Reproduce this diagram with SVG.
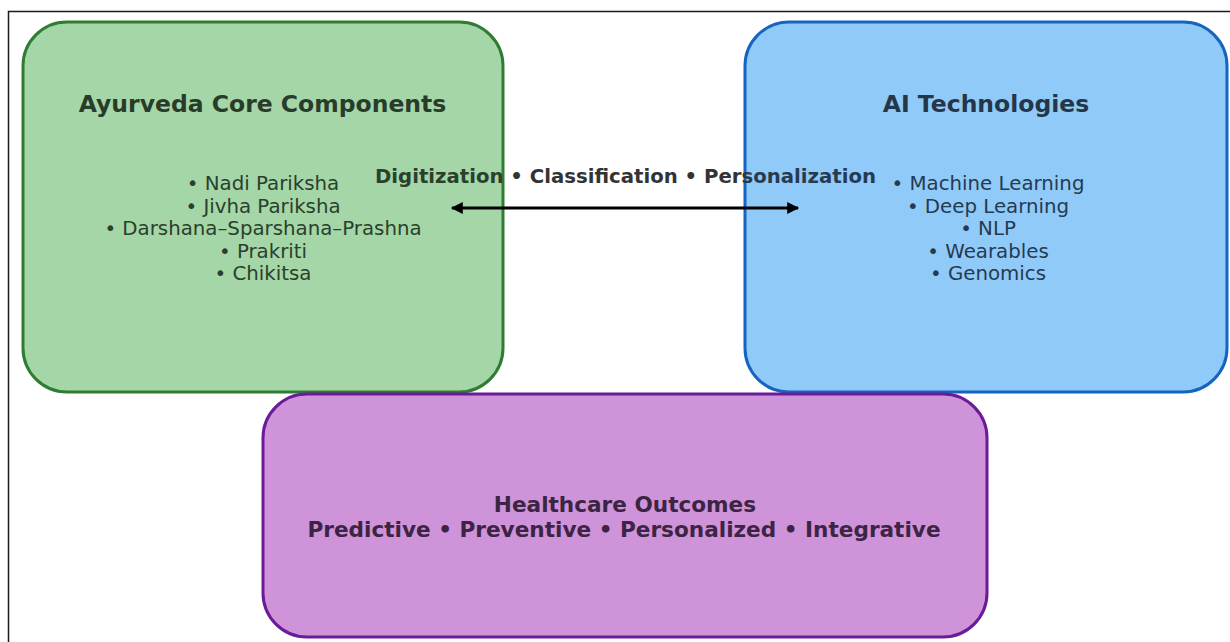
<svg xmlns="http://www.w3.org/2000/svg" width="1230" height="642" viewBox="0 0 1230 642">
  <defs>
    <style>
      .title { font-family: "DejaVu Sans", "Liberation Sans", sans-serif; font-weight: bold; font-size: 23.5px; text-anchor: middle; }
      .item { font-family: "DejaVu Sans", "Liberation Sans", sans-serif; font-size: 19.8px; text-anchor: middle; }
      .bold { font-family: "DejaVu Sans", "Liberation Sans", sans-serif; font-weight: bold; text-anchor: middle; }
      .box { stroke-width: 3; }
      .connector { stroke: #000; stroke-width: 3; fill: none; }
    </style>
    <!-- label colour follows the panel it sits over -->
    <linearGradient id="labelInk" gradientUnits="userSpaceOnUse" x1="0" y1="0" x2="1230" y2="0">
      <stop offset="0.4098" stop-color="#2a402c"/>
      <stop offset="0.4098" stop-color="#333333"/>
      <stop offset="0.6065" stop-color="#333333"/>
      <stop offset="0.6065" stop-color="#263a50"/>
    </linearGradient>
    <marker id="head" viewBox="0 0 10 10" refX="9" refY="5" markerWidth="5" markerHeight="4" orient="auto-start-reverse" markerUnits="strokeWidth">
      <path d="M0,0 L10,5 L0,10 Z" fill="#000"/>
    </marker>
  </defs>

  <rect width="1230" height="642" fill="#ffffff"/>
  <!-- figure frame -->
  <path d="M8.5,642 V11.5 H1230" fill="none" stroke="#1a1a1a" stroke-width="1.5"/>

  <g id="ayurveda">
    <rect class="box" x="23" y="22" width="480" height="370" rx="44" ry="44" fill="#a5d6a7" stroke="#2e7d32"/>
    <text class="title" x="262.5" y="112" fill="#283c2a">Ayurveda Core Components</text>
    <g class="item" fill="#2a402c">
      <text x="263" y="190">• Nadi Pariksha</text>
      <text x="263" y="212.5">• Jivha Pariksha</text>
      <text x="263" y="235">• Darshana–Sparshana–Prashna</text>
      <text x="263" y="257.5">• Prakriti</text>
      <text x="263" y="280">• Chikitsa</text>
    </g>
  </g>

  <g id="ai-tech">
    <rect class="box" x="745" y="22" width="482" height="370" rx="44" ry="44" fill="#90caf9" stroke="#1565c0"/>
    <text class="title" x="986" y="112" fill="#243648">AI Technologies</text>
    <g class="item" fill="#263a50">
      <text x="988" y="190">• Machine Learning</text>
      <text x="988" y="212.5">• Deep Learning</text>
      <text x="988" y="235">• NLP</text>
      <text x="988" y="257.5">• Wearables</text>
      <text x="988" y="280">• Genomics</text>
    </g>
  </g>

  <g id="outcomes">
    <rect class="box" x="263" y="394" width="724" height="243" rx="44" ry="44" fill="#ce93d8" stroke="#6a1b9a"/>
    <g class="bold" fill="#3c2444" font-size="21.6px">
      <text x="625" y="512">Healthcare Outcomes</text>
      <text x="624" y="537">Predictive • Preventive • Personalized • Integrative</text>
    </g>
  </g>

  <g id="connectors">
    <line class="connector" x1="452" y1="208" x2="798" y2="208" marker-start="url(#head)" marker-end="url(#head)"/>
    <text class="bold" x="625.5" y="183" font-size="19.7px" fill="url(#labelInk)">Digitization • Classification • Personalization</text>
  </g>
</svg>
